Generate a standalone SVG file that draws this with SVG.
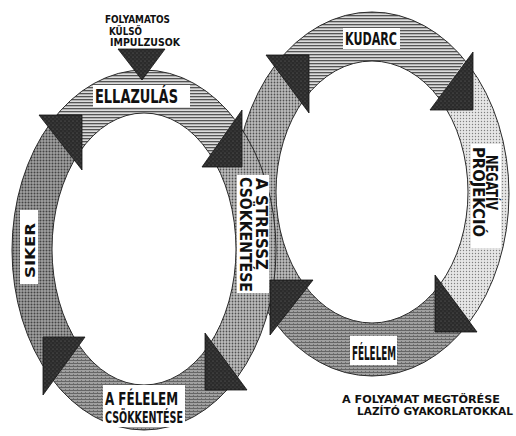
<svg xmlns="http://www.w3.org/2000/svg" width="516" height="436" viewBox="0 0 516 436">
<style>
.lbl{font-family:"Liberation Sans Narrow","DejaVu Sans Condensed","Liberation Sans",sans-serif;fill:#111;font-weight:bold;}
.box{fill:#fff;}
.ring{stroke:#2a2a2a;stroke-width:1;}
.tri{fill:url(#pDark);stroke:#111;stroke-width:0.8;stroke-linejoin:miter;}
</style>
<defs>
<pattern id="pStripe" width="4" height="3" patternUnits="userSpaceOnUse"><rect width="4" height="3" fill="#dcdcdc"/><rect width="4" height="1.3" fill="#555"/></pattern>
<pattern id="pDot" width="3" height="3" patternUnits="userSpaceOnUse"><rect width="3" height="3" fill="#bdbdbd"/><circle cx="1.5" cy="1.5" r="0.9" fill="#505050"/></pattern>
<pattern id="pSiker" width="3" height="3" patternUnits="userSpaceOnUse"><rect width="3" height="3" fill="#a0a0a0"/><circle cx="1.5" cy="1.5" r="1" fill="#444"/></pattern>
<pattern id="pNeg" width="3" height="3" patternUnits="userSpaceOnUse"><rect width="3" height="3" fill="#e6e6e6"/><circle cx="1.5" cy="1.5" r="0.7" fill="#808080"/></pattern>
<pattern id="pFel" width="4" height="3" patternUnits="userSpaceOnUse"><rect width="4" height="3" fill="#a0a0a0"/><rect width="4" height="1" fill="#666"/><rect x="1" y="2" width="1" height="1" fill="#707070"/></pattern>
<pattern id="pDark" width="4" height="4" patternUnits="userSpaceOnUse"><rect width="4" height="4" fill="#2b2b2b"/><circle cx="1" cy="1" r="0.6" fill="#6a6a6a"/><circle cx="3" cy="3" r="0.5" fill="#555"/></pattern>
<path id="ringL" fill-rule="evenodd" d="M12,250 A132,180 0 1,0 276,250 A132,180 0 1,0 12,250 Z M52,249 A92,136 0 1,0 236,249 A92,136 0 1,0 52,249 Z"/>
<path id="ringR" fill-rule="evenodd" d="M235,194 A137,182 0 1,0 509,194 A137,182 0 1,0 235,194 Z M276,192 A96,131 0 1,0 468,192 A96,131 0 1,0 276,192 Z"/>
<clipPath id="wTopL"><polygon points="144,250 -108,-74 378,-86"/></clipPath>
<clipPath id="wLeftL"><polygon points="144,250 -96,598 -108,-74"/></clipPath>
<clipPath id="wBotL"><polygon points="144,250 390,583 -96,598"/></clipPath>
<clipPath id="wRightL"><polygon points="144,250 378,-86 390,583"/></clipPath>
<clipPath id="wTopR"><polygon points="372,194 117,-136 609,-145"/></clipPath>
<clipPath id="wRightR"><polygon points="372,194 609,-145 624,521"/></clipPath>
<clipPath id="wBotR"><polygon points="372,194 624,521 129,533"/></clipPath>
<clipPath id="wLeftR"><polygon points="372,194 129,533 117,-136"/></clipPath>
</defs>
<rect width="516" height="436" fill="#fff"/>

<g id="ellazulas">
<use href="#ringL" class="ring" fill="url(#pStripe)" clip-path="url(#wTopL)"/>
</g>
<g id="siker">
<use href="#ringL" class="ring" fill="url(#pSiker)" clip-path="url(#wLeftL)"/>
</g>
<g id="felelem-csokkentese">
<use href="#ringL" class="ring" fill="url(#pFel)" clip-path="url(#wBotL)"/>
</g>
<g id="kudarc">
<use href="#ringR" class="ring" fill="url(#pStripe)" clip-path="url(#wTopR)"/>
</g>
<g id="negativ-projekcio">
<use href="#ringR" class="ring" fill="url(#pNeg)" clip-path="url(#wRightR)"/>
</g>
<g id="felelem">
<use href="#ringR" class="ring" fill="url(#pFel)" clip-path="url(#wBotR)"/>
</g>
<g id="stressz-csokkentese">
<use href="#ringR" class="ring" fill="url(#pDot)" clip-path="url(#wLeftR)"/>
<use href="#ringL" class="ring" fill="url(#pDot)" clip-path="url(#wRightL)"/>
</g>

<g id="connectors">
<polygon class="tri" points="118,49 165,49 142,80"/>
<polygon class="tri" points="39,115 82,115 82,170"/>
<polygon class="tri" points="43,337 85,337 43,395"/>
<polygon class="tri" points="205,333 205,390 247,390"/>
<polygon class="tri" points="242,110 202,167 242,167"/>
<polygon class="tri" points="266,55 309,55 309,113"/>
<polygon class="tri" points="473,52 430,110 473,110"/>
<polygon class="tri" points="435,275 435,332 477,332"/>
<polygon class="tri" points="270,280 313,280 270,335"/>
</g>

<g id="labels">
<g id="impulzusok">
<text class="lbl" x="105" y="23" font-size="10.5" textLength="65" lengthAdjust="spacingAndGlyphs">FOLYAMATOS</text>
<text class="lbl" x="109" y="35" font-size="10.5" textLength="33" lengthAdjust="spacingAndGlyphs">KÜLSŐ</text>
<text class="lbl" x="110" y="46" font-size="10.5" textLength="70" lengthAdjust="spacingAndGlyphs">IMPULZUSOK</text>
</g>
<rect class="box" x="93" y="85" width="97" height="22"/>
<text class="lbl" x="95" y="103" font-size="19" textLength="83" lengthAdjust="spacingAndGlyphs">ELLAZULÁS</text>

<rect class="box" x="343" y="28" width="57" height="21"/>
<text class="lbl" x="345" y="45" font-size="18" textLength="52" lengthAdjust="spacingAndGlyphs">KUDARC</text>

<rect class="box" x="471" y="144" width="30" height="104"/>
<g transform="rotate(90)">
<text class="lbl" x="155" y="-486" font-size="15" textLength="55" lengthAdjust="spacingAndGlyphs">NEGATÍV</text>
<text class="lbl" x="147" y="-473" font-size="15" textLength="90" lengthAdjust="spacingAndGlyphs">PROJEKCIÓ</text>
</g>

<rect class="box" x="237" y="175" width="32" height="118"/>
<g transform="rotate(90)">
<text class="lbl" x="178" y="-256" font-size="15" textLength="92" lengthAdjust="spacingAndGlyphs">A STRESSZ</text>
<text class="lbl" x="177" y="-240" font-size="15" textLength="115" lengthAdjust="spacingAndGlyphs">CSÖKKENTÉSE</text>
</g>

<rect class="box" x="20" y="210" width="18" height="74"/>
<g transform="rotate(-90)">
<text class="lbl" x="-278" y="35" font-size="14" textLength="55" lengthAdjust="spacingAndGlyphs">SIKER</text>
</g>

<rect class="box" x="350" y="336" width="47" height="29"/>
<text class="lbl" x="352" y="360" font-size="19" textLength="44" lengthAdjust="spacingAndGlyphs">FÉLELEM</text>

<rect class="box" x="103" y="385" width="82" height="42"/>
<text class="lbl" x="105" y="405" font-size="18" textLength="73" lengthAdjust="spacingAndGlyphs">A FÉLELEM</text>
<text class="lbl" x="105" y="423" font-size="16" textLength="78" lengthAdjust="spacingAndGlyphs">CSÖKKENTÉSE</text>

<g id="megjegyzes">
<text class="lbl" x="342" y="403" font-size="10.5" textLength="158" lengthAdjust="spacingAndGlyphs">A FOLYAMAT  MEGTÖRÉSE</text>
<text class="lbl" x="357" y="415" font-size="10.5" textLength="156" lengthAdjust="spacingAndGlyphs">LAZÍTÓ  GYAKORLATOKKAL</text>
</g>
</g>
</svg>
